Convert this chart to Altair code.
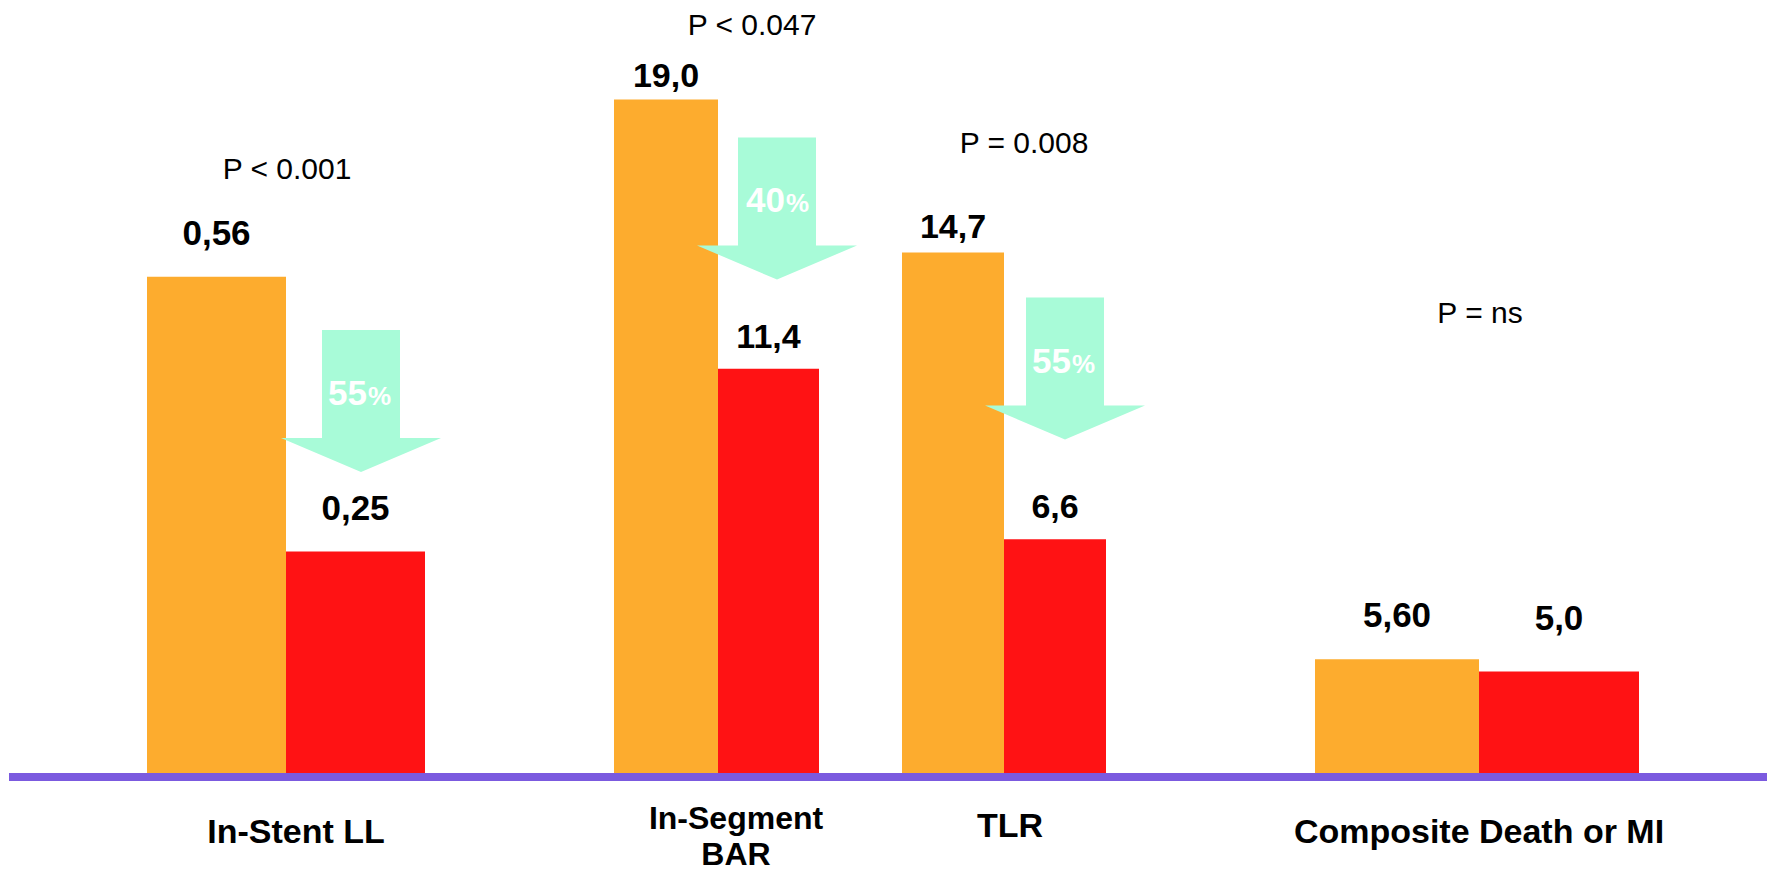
import altair as alt
import pandas as pd

# ---------------- data ----------------
categories = ["In-Stent LL", "In-Segment\nBAR", "TLR", "Composite Death or MI"]
control_values = [0.56, 19.0, 14.7, 5.60]
treated_values = [0.25, 11.4, 6.6, 5.0]
control_text = ["0,56", "19,0", "14,7", "5,60"]
treated_text = ["0,25", "11,4", "6,6", "5,0"]
p_text = ["P < 0.001", "P < 0.047", "P = 0.008", "P = ns"]
reduction_pct = ["55", "40", "55"]

# ---------------- layout (page-pixel frame, y = px above baseline) ----------------
bar_left = [147, 614, 902, 1315]
control_width = [139, 104, 102, 164]
treated_width = [139, 101, 102, 160]
px_per_unit = [886, 35.45, 35.4, 20.3]
narrow_group = [True, False, False, True]
control_gap = [32, 12, 15, 32]
treated_gap = [32, 21, 21, 42]
p_x = [287, 752, 1024, 1480]
p_y = [594, 738, 620, 450]
cat_x = [296, 736, 1010, 1479]
cat_y = [-70, -56, -64, -70]
cat_size = [34, 32, 34, 34]
arrow_x = [361, 777, 1065]
arrow_y = [372, 564.5, 404.5]
pct_x = [367, 785, 1071]
pct_y = [368, 561, 400]
baseline_span = [9, 1769]

ORANGE = "#FDAC2E"
RED = "#FF1214"
PURPLE = "#7B5ADF"
MINT = "#A8FBD8"
FONT = "Liberation Sans"

xs = alt.Scale(domain=[8, 1767], nice=False, zero=False)
ys = alt.Scale(domain=[-99, 765], nice=False, zero=False)

# bars
rows = []
for i in range(4):
    l = bar_left[i]
    rows.append(dict(series="control", x0=l, x1=l + control_width[i],
                     h=control_values[i] * px_per_unit[i], text=control_text[i],
                     gap=control_gap[i], narrow=narrow_group[i]))
    l2 = l + control_width[i]
    rows.append(dict(series="treated", x0=l2, x1=l2 + treated_width[i],
                     h=treated_values[i] * px_per_unit[i], text=treated_text[i],
                     gap=treated_gap[i], narrow=narrow_group[i]))
bars_df = pd.DataFrame(rows)
bars_df["xc"] = (bars_df["x0"] + bars_df["x1"]) / 2
bars_df["ly"] = bars_df["h"] + bars_df["gap"]
bars_df["zero"] = 0

bars = alt.Chart(bars_df).mark_rect().encode(
    x=alt.X("x0:Q", scale=xs, axis=None),
    x2="x1:Q",
    y=alt.Y("h:Q", scale=ys, axis=None),
    y2="zero:Q",
    color=alt.Color("series:N", scale=alt.Scale(domain=["control", "treated"], range=[ORANGE, RED]), legend=None),
)

base_df = pd.DataFrame({"x0": [baseline_span[0]], "x1": [baseline_span[1]], "y": [-4]})
baseline = alt.Chart(base_df).mark_rule(color=PURPLE, strokeWidth=8).encode(
    x=alt.X("x0:Q", scale=xs, axis=None), x2="x1:Q",
    y=alt.Y("y:Q", scale=ys, axis=None),
)

val_narrow = alt.Chart(bars_df[bars_df["narrow"]]).mark_text(
    font=FONT, fontWeight="bold", fontSize=35, align="center", baseline="alphabetic", color="black"
).encode(x=alt.X("xc:Q", scale=xs, axis=None), y=alt.Y("ly:Q", scale=ys, axis=None), text="text:N")

val_reg = alt.Chart(bars_df[~bars_df["narrow"]]).mark_text(
    font=FONT, fontWeight="bold", fontSize=34, align="center", baseline="alphabetic", color="black"
).encode(x=alt.X("xc:Q", scale=xs, axis=None), y=alt.Y("ly:Q", scale=ys, axis=None), text="text:N")

p_df = pd.DataFrame({"x": p_x, "y": p_y, "t": p_text})
p_labels = alt.Chart(p_df).mark_text(
    font=FONT, fontSize=30, align="center", baseline="alphabetic", color="black"
).encode(x=alt.X("x:Q", scale=xs, axis=None), y=alt.Y("y:Q", scale=ys, axis=None), text="t:N")

cat_df = pd.DataFrame({"x": cat_x, "y": cat_y, "t": categories, "s": cat_size})
cat_labels = alt.Chart(cat_df).mark_text(
    font=FONT, fontWeight="bold", align="center", baseline="alphabetic",
    color="black", lineBreak="\n", lineHeight=36
).encode(
    x=alt.X("x:Q", scale=xs, axis=None), y=alt.Y("y:Q", scale=ys, axis=None), text="t:N",
    size=alt.Size("s:Q", scale=None, legend=None),
)

ARROW = ("M -0.4875 -0.8875 L 0.4875 -0.8875 L 0.4875 0.4625 L 1 0.4625 "
         "L 0 0.8875 L -1 0.4625 L -0.4875 0.4625 Z")
arr_df = pd.DataFrame({"x": arrow_x, "y": arrow_y})
arrows = alt.Chart(arr_df).mark_point(
    shape=ARROW, size=25600, filled=True, fill=MINT, color=MINT, strokeWidth=0, opacity=1
).encode(x=alt.X("x:Q", scale=xs, axis=None), y=alt.Y("y:Q", scale=ys, axis=None))

pct_df = pd.DataFrame({"x": pct_x, "y": pct_y, "t": reduction_pct})
pct_num = alt.Chart(pct_df).mark_text(
    font=FONT, fontWeight="bold", fontSize=35, align="right", baseline="alphabetic", color="white"
).encode(x=alt.X("x:Q", scale=xs, axis=None), y=alt.Y("y:Q", scale=ys, axis=None), text="t:N")
pct_sign = alt.Chart(pct_df).mark_text(
    font=FONT, fontWeight="bold", fontSize=26, align="left", baseline="alphabetic", color="white", dx=1
).encode(x=alt.X("x:Q", scale=xs, axis=None), y=alt.Y("y:Q", scale=ys, axis=None), text=alt.value("%"))

chart = alt.layer(
    bars, baseline, arrows, pct_num, pct_sign, val_narrow, val_reg, p_labels, cat_labels
).properties(
    width=1759, height=864, padding=0,
    autosize=alt.AutoSizeParams(type="none"),
    background="white",
).configure_view(stroke=None)

chart.save("out.html", embed_options={"renderer": "svg", "actions": False})
